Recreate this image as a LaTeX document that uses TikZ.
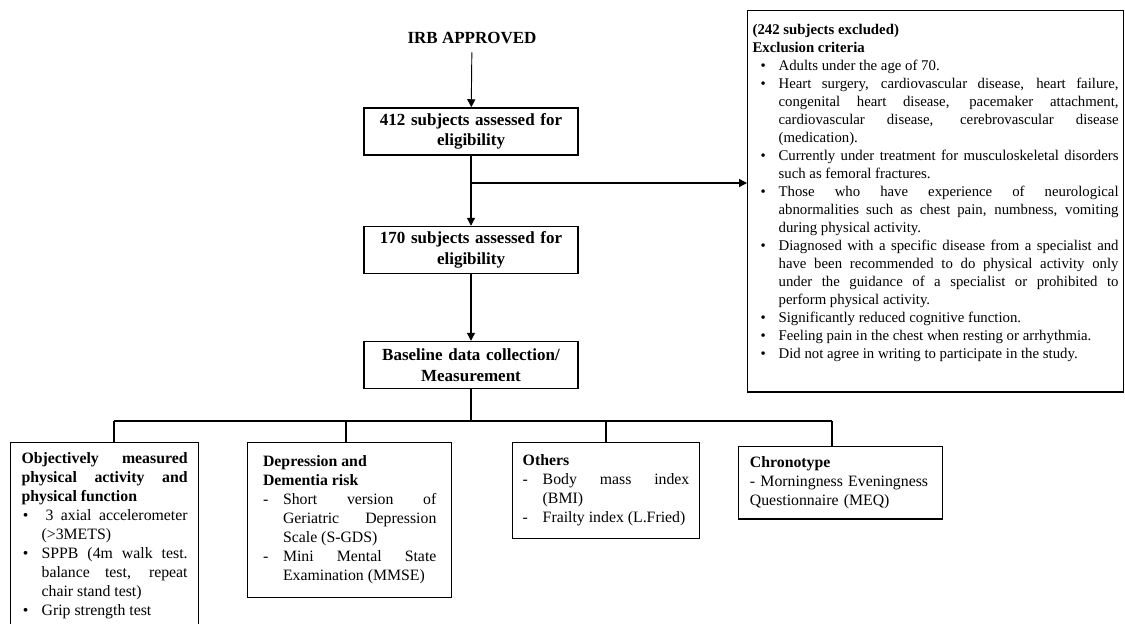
\documentclass[tikz,border=0pt]{standalone}
\usepackage{fontspec}
\setmainfont{Liberation Serif}
\usetikzlibrary{arrows.meta}

\hyphenpenalty=10000
\exhyphenpenalty=10000
\sloppy

\newcommand{\fgrande}{\fontsize{12.75pt}{15.5pt}\selectfont\bfseries}
\newcommand{\fexcl}{\fontsize{11.1pt}{13.5pt}\selectfont}
\newcommand{\fcaja}{\fontsize{11.85pt}{14.25pt}\selectfont}
% vineta: simbolo, sangria, texto
\newcommand{\vin}[3]{\par\noindent\hangindent=#2\hangafter=1\makebox[#2][l]{#1}\ignorespaces#3}

\tikzset{
  principal/.style={draw, line width=1.1pt, font=\fgrande, align=center,
    text width=150pt, minimum width=160.5pt, minimum height=35.25pt, inner sep=2pt},
  caja/.style={draw, line width=0.9pt, font=\fcaja, anchor=north west, inner ysep=7.5pt, align=justify},
  flecha/.style={-{Triangle[length=6pt,width=6pt]}, line width=0.9pt},
  linea/.style={line width=0.9pt}
}

\begin{document}
\begin{tikzpicture}[x=0.75pt,y=-0.75pt]
  \useasboundingbox (0,0) rectangle (1125,624);
  \clip (0,0) rectangle (1125,624);

  \coordinate (rama) at (471,183);
  \coordinate (bus) at (471,421);
  \coordinate (d1) at (114,421);
  \coordinate (d2) at (346,421);
  \coordinate (d3) at (606,421);
  \coordinate (d4) at (832,421);

  % Columna central
  \node[font=\fgrande] (irb) at (472,38) {IRB APPROVED};
  \node[principal] (A) at (471,131.5) {412 subjects assessed for\\eligibility};
  \node[principal] (B) at (471,250) {170 subjects assessed for\\eligibility};
  \node[principal] (C) at (471,365) {Baseline data collection/\\Measurement};

  % Criterios de exclusion
  \node[caja, font=\fexcl, text width=274.5pt, inner xsep=3.75pt, inner ysep=10pt] (E) at (747,10) {%
    {\bfseries (242 subjects excluded)\par Exclusion criteria}
    \vin{\hspace{6pt}\textbullet}{19.5pt}{Adults under the age of 70.}
    \vin{\hspace{6pt}\textbullet}{19.5pt}{Heart surgery, cardiovascular disease, heart failure, \linebreak congenital heart disease, pacemaker attachment, \linebreak cardiovascular disease, cerebrovascular disease \linebreak (medication).}
    \vin{\hspace{6pt}\textbullet}{19.5pt}{Currently under treatment for musculoskeletal disorders \linebreak such as femoral fractures.}
    \vin{\hspace{6pt}\textbullet}{19.5pt}{Those who have experience of neurological \linebreak abnormalities such as chest pain, numbness, vomiting \linebreak during physical activity.}
    \vin{\hspace{6pt}\textbullet}{19.5pt}{Diagnosed with a specific disease from a specialist and \linebreak have been recommended to do physical activity only \linebreak under the guidance of a specialist or prohibited to \linebreak perform physical activity.}
    \vin{\hspace{6pt}\textbullet}{19.5pt}{Significantly reduced cognitive function.}
    \vin{\hspace{6pt}\textbullet}{19.5pt}{Feeling pain in the chest when resting or arrhythmia.}
    \vin{\hspace{6pt}\textbullet}{19.5pt}{Did not agree in writing to participate in the study.}
    \par\noindent\rule{0pt}{12pt}\par};

  % Mediciones
  \node[caja, text width=124.5pt, inner xsep=8.25pt] (c1) at (10,442) {%
    {\bfseries Objectively measured physical activity and physical function}
    \vin{\hspace{1pt}\textbullet}{15pt}{\hspace{3pt}3 axial accelerometer (>3METS)}
    \vin{\hspace{1pt}\textbullet}{15pt}{SPPB (4m walk test. balance test, repeat chair stand test)}
    \vin{\hspace{1pt}\textbullet}{15pt}{Grip strength test}
    \par\noindent\rule{0pt}{20pt}\par};
  \node[caja, text width=130pt, inner xsep=11.6pt, minimum height=116.25pt] (c2) at (247,442) {%
    {\bfseries Depression and\newline Dementia risk}
    \vin{-}{15pt}{Short version of Geriatric Depression Scale (S-GDS)}
    \vin{-}{15pt}{Mini Mental State Examination (MMSE)}\par};
  \node[caja, text width=125pt, inner xsep=7.6pt, minimum height=72pt] (c3) at (512,442) {%
    {\bfseries Others}
    \vin{-}{15pt}{Body mass index (BMI)}
    \vin{-}{15pt}{Frailty index (L.Fried)}\par};
  \node[caja, text width=136pt, inner xsep=8.5pt, minimum height=54pt, align=left] (c4) at (738,446) {%
    {\bfseries Chronotype}\\- Morningness Eveningness\\Questionnaire (MEQ)};

  % Flechas
  \draw[flecha, line width=0.7pt, shorten <=3pt] (irb) -- (A);
  \draw[flecha] (A) -- (B);
  \draw[flecha] (rama) -- (rama -| E.west);
  \draw[flecha] (B) -- (C);

  % Lineas hacia las mediciones
  \draw[linea] (C) -- (bus);
  \draw[linea] (d1) -- (d4);
  \foreach \d/\c in {d1/c1,d2/c2,d3/c3,d4/c4}
    \draw[linea] (\d) -- (\d |- \c.north);
\end{tikzpicture}
\end{document}
